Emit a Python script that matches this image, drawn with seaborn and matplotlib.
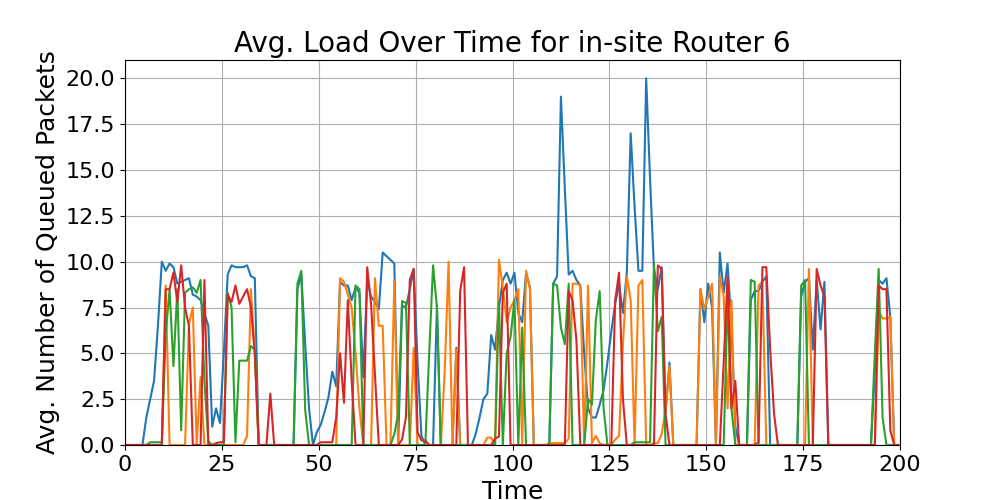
import matplotlib
matplotlib.use("Agg")
import matplotlib.pyplot as plt
from matplotlib.ticker import MultipleLocator
import numpy as np
import pandas as pd
import seaborn as sns

# one sample per time step, sampled at the middle of each step
time_steps = np.arange(0.5, 200, 1.0)

series_names = ["Queue 0", "Queue 1", "Queue 2", "Queue 3"]
series_colors = ["#1f77b4", "#ff7f0e", "#2ca02c", "#d62728"]

queue_0 = [
    0, 0, 0, 0, 0, 1.5, 2.5, 3.5, 6.5, 10.0,
    9.5, 9.9, 9.7, 8.8, 8.9, 9.0, 9.1, 8.2, 8.1, 7.9,
    7.2, 6.5, 1.0, 2.0, 1.2, 5.0, 9.3, 9.8, 9.7, 9.7,
    9.7, 9.8, 9.2, 9.1, 0, 0, 0, 0, 0, 0,
    0, 0, 0, 0, 8.5, 9.3, 5.5, 2.0, 0, 0.7,
    1.1, 1.8, 2.6, 4.0, 3.2, 8.9, 8.7, 8.7, 7.9, 8.6,
    8.3, 3.7, 9.0, 8.1, 7.8, 7.4, 10.5, 10.3, 10.1, 9.9,
    0, 7.6, 7.5, 8.5, 9.6, 4.5, 0.5, 0, 0, 0,
    7.6, 0, 0, 0, 0, 5.3, 0, 0, 0, 0,
    0.6, 1.5, 2.5, 2.8, 6.0, 5.2, 7.5, 9.0, 9.4, 8.8,
    9.4, 7.2, 6.7, 9.4, 8.6, 0, 0, 0, 0, 0,
    8.8, 9.2, 19.0, 14.0, 9.3, 9.5, 9.0, 8.7, 5.0, 2.0,
    1.5, 1.5, 2.2, 3.0, 4.5, 6.2, 7.7, 8.8, 7.2, 9.4,
    17.0, 13.0, 9.5, 9.5, 20.0, 14.5, 9.6, 8.5, 9.7, 1.8,
    4.5, 0, 0, 0, 0, 0, 0, 0, 8.5, 6.7,
    8.8, 7.5, 0, 10.5, 8.3, 9.9, 6.5, 1.0, 0, 0,
    0, 7.9, 8.4, 8.4, 8.9, 9.2, 0, 0, 0, 0,
    0, 0, 0, 0, 8.1, 8.9, 9.1, 5.2, 9.0, 6.3,
    8.9, 0, 0, 0, 0, 0, 0, 0, 0, 0,
    0, 0, 0, 4.0, 9.0, 8.8, 9.1, 7.0, 0, 0,
]

queue_1 = [
    0, 0, 0, 0, 0, 0, 0, 0, 0, 0,
    8.7, 0, 0, 0, 0, 0, 6.6, 7.5, 0, 3.7,
    0, 0, 0, 0, 0, 0, 0, 0, 0, 0,
    0, 0.5, 8.5, 5.0, 0, 0, 0, 0, 0, 0,
    0, 0, 0, 0, 0, 0, 0, 0, 0, 0,
    0, 0, 0, 0, 0, 9.1, 8.9, 8.2, 7.5, 5.0,
    2.0, 0, 0, 0, 9.1, 6.5, 6.5, 0, 0, 8.9,
    0, 0, 0, 0, 5.3, 0, 0, 0, 0, 0,
    0, 0, 4.0, 10.0, 0, 5.2, 0, 0, 0, 0,
    0, 0, 0, 0.4, 0.4, 0, 10.1, 8.6, 6.7, 7.5,
    7.9, 8.5, 0, 9.5, 8.5, 0, 0, 0, 0, 0.1,
    0.1, 0.1, 0.1, 0.1, 0.35, 8.8, 8.8, 8.7, 0, 8.7,
    0.1, 0.5, 0.1, 0, 0, 0, 0.3, 0.5, 5.5, 9.2,
    7.9, 0, 8.7, 9.0, 0, 0, 0.1, 0.1, 0.6, 1.9,
    4.3, 0, 0, 0, 0, 0, 0, 0, 8.5, 7.4,
    8.1, 8.8, 0, 9.2, 8.1, 2.0, 7.9, 0, 0, 0,
    0, 0, 0, 8.7, 8.9, 0, 0, 0, 0, 0,
    0, 0, 0, 0, 0, 0, 9.6, 0, 0, 0,
    0, 0, 0, 0, 0, 0, 0, 0, 0, 0,
    0, 0, 0, 0, 7.3, 6.9, 6.9, 7.0, 0, 0,
]

queue_2 = [
    0, 0, 0, 0, 0, 0, 0.15, 0.15, 0.15, 0.15,
    6.0, 8.5, 4.3, 8.5, 0.8, 8.3, 8.5, 8.6, 8.3, 9.0,
    3.5, 0.2, 0, 0, 0, 0, 8.3, 7.5, 0.15, 4.6,
    4.6, 4.6, 5.4, 5.2, 0, 0, 0, 0, 0, 0,
    0, 0, 0, 0, 8.8, 9.5, 1.9, 0, 0, 0,
    0, 0, 0, 0, 0, 0, 0, 0, 0, 8.7,
    8.5, 0, 0, 0, 0, 0, 0, 0, 0, 0.6,
    1.7, 7.85, 7.75, 0, 0, 0, 0, 0, 5.0, 9.8,
    7.5, 0, 0, 0, 0, 0, 0, 0, 0, 0,
    0, 0, 0, 0, 0, 0, 7.8, 0, 5.0, 5.9,
    7.9, 0, 6.4, 0, 0, 0, 0, 0, 0, 0,
    8.8, 8.7, 6.4, 5.5, 8.8, 0, 0, 0, 0, 2.5,
    2.2, 6.8, 8.4, 2.0, 0, 0, 0, 0, 0, 0,
    0, 0.15, 0.15, 0.15, 0.15, 0.15, 9.9, 6.2, 7.0, 0,
    0, 0, 0, 0, 0, 0, 0, 0, 0, 0,
    0, 0, 0, 0, 0, 8.0, 2.0, 0, 0, 0,
    0, 9.0, 8.9, 0, 0, 0, 0, 0, 0, 0,
    0, 0, 0, 0, 8.7, 9.0, 0, 0, 0, 0,
    0, 0, 0, 0, 0, 0, 0, 0, 0, 0,
    0, 0, 0, 5.0, 9.6, 1.5, 0, 0, 0, 0,
]

queue_3 = [
    0, 0, 0, 0, 0, 0, 0, 0, 0, 0,
    8.5, 8.5, 9.4, 7.8, 9.8, 7.5, 6.5, 0, 0, 0,
    9.0, 0, 0, 0.1, 0.15, 0.15, 8.2, 7.8, 8.7, 7.7,
    8.1, 8.5, 7.5, 5.0, 0, 0, 0, 2.8, 0, 0,
    0, 0, 0, 0, 0, 0, 0, 0, 0, 0,
    0.15, 0.15, 0.15, 0.15, 1.5, 5.0, 2.3, 7.9, 3.5, 0,
    0, 0, 9.7, 7.7, 3.8, 0, 0, 0, 0, 0,
    0, 0.3, 1.5, 9.0, 9.6, 0.7, 0.25, 0.25, 0, 0,
    0, 0, 0, 0, 0, 0, 8.4, 9.7, 0, 0,
    0, 0, 0, 0, 0, 0.35, 0.45, 8.3, 8.8, 0,
    0, 0, 0, 0, 0, 0, 0, 0, 0, 0,
    0, 0, 0, 0, 8.4, 7.9, 5.7, 0, 0, 0,
    0, 0, 0, 0, 0, 0, 7.9, 9.4, 2.5, 0,
    0, 0, 0, 0, 0, 0, 0, 9.8, 9.6, 1.7,
    0, 0, 0, 0, 0, 0, 0, 0, 0, 0,
    0, 0, 0, 0, 4.5, 9.2, 2.0, 3.5, 0, 0,
    0, 0, 0, 0.15, 9.7, 9.7, 5.2, 1.7, 0, 0,
    0, 0, 0, 0, 0, 0, 0, 0, 9.6, 8.7,
    8.1, 0, 0, 0, 0, 0, 0, 0, 0, 0,
    0, 0, 0, 0, 8.7, 8.5, 8.5, 0.8, 0, 0,
]

frames = []
for name, values in zip(series_names, [queue_0, queue_1, queue_2, queue_3]):
    frames.append(pd.DataFrame({"Time": time_steps, "Load": values, "Queue": name}))
df = pd.concat(frames, ignore_index=True)

fig, ax = plt.subplots(figsize=(10, 5), dpi=100)
sns.lineplot(
    data=df,
    x="Time",
    y="Load",
    hue="Queue",
    hue_order=series_names,
    palette=series_colors,
    errorbar=None,
    legend=False,
    linewidth=1.5,
    ax=ax,
)
ax.set_xlim(0, 200)
ax.set_ylim(0, 21)
ax.yaxis.set_major_locator(MultipleLocator(2.5))
ax.grid(True)
ax.set_title("Avg. Load Over Time for in-site Router 6", fontsize=20)
ax.set_xlabel("Time", fontsize=18)
ax.set_ylabel("Avg. Number of Queued Packets", fontsize=18)
ax.tick_params(axis="both", labelsize=16)
fig.savefig("out.png", dpi=100)
plt.close(fig)
